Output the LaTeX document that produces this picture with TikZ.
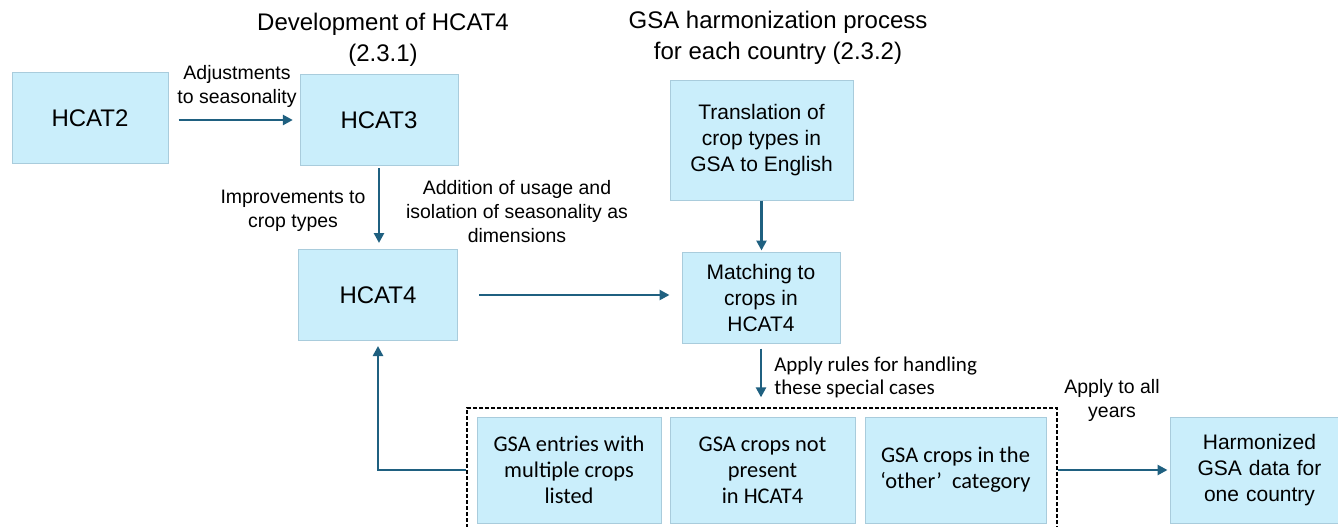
\documentclass[tikz,border=0pt]{standalone}
\usepackage{fontspec}
\setmainfont{Liberation Sans}
\newfontfamily\narrowfont{Carlito}
\usetikzlibrary{arrows.meta}
\definecolor{boxfill}{HTML}{CAEEFB}
\definecolor{boxline}{HTML}{A9CCDC}
\definecolor{arrcol}{HTML}{1F6080}
\tikzset{
  box/.style={draw=boxline, fill=boxfill, line width=0.75pt, inner sep=0pt, align=center, font=\fontsize{15.75}{19.5}\selectfont},
  bigbox/.style={box, font=\fontsize{18}{22}\selectfont},
  nbox/.style={box, font=\narrowfont\fontsize{16.8}{19.5}\selectfont},
  arr/.style={draw=arrcol, line width=1.9pt, -{Triangle[length=7.5pt,width=7.5pt]}},
  lab/.style={align=center, inner sep=0pt, font=\fontsize{14.6}{18}\selectfont},
  ttl/.style={align=center, inner sep=0pt, font=\fontsize{18}{23.25}\selectfont},
}
\begin{document}
\begin{tikzpicture}[x=0.75pt,y=-0.75pt]
\useasboundingbox (0,0) rectangle (1338,526);
\begin{scope}
\clip (0,0) rectangle (1338,526);
% titles
\node[ttl] (t1) at (383,40) {Development of HCAT4\\(2.3.1)};
\node[ttl] (t2) at (778,38) {GSA harmonization process\\for each country (2.3.2)};
% boxes
\node[bigbox, minimum width=156*0.75pt, minimum height=91*0.75pt] (h2) at (90,118) {HCAT2};
\node[bigbox, minimum width=158*0.75pt, minimum height=91*0.75pt] (h3) at (379,120) {HCAT3};
\node[bigbox, minimum width=159*0.75pt, minimum height=91*0.75pt] (h4) at (378,295) {HCAT4};
\node[box, minimum width=183*0.75pt, minimum height=120*0.75pt] (tr) at (761.5,140) {Translation of\\crop types in\\GSA to English};
\node[box, minimum width=158*0.75pt, minimum height=91*0.75pt] (ma) at (761,297.5) {Matching to\\crops in\\HCAT4};
\node[draw, dash pattern=on 3pt off 1.5pt, line width=1pt, minimum width=590*0.75pt, minimum height=132*0.75pt, inner sep=0pt] (grp) at (762,474) {};
\node[nbox, minimum width=184*0.75pt, minimum height=106*0.75pt] (b1) at (569,470) {GSA entries with\\multiple crops\\listed};
\node[nbox, minimum width=185*0.75pt, minimum height=106*0.75pt] (b2) at (762.5,470) {GSA crops not\\present\\in HCAT4};
\node[nbox, minimum width=181*0.75pt, minimum height=106*0.75pt] (b3) at (955.5,470) {GSA crops in the\\‘other’\ \ category};
\node[box, minimum width=179*0.75pt, minimum height=106*0.75pt, text width=179*0.75pt] (hz) at (1259.5,470) {Harmonized\\GSA data for\\one country};
% labels
\node[lab] (l1) at (237,86) {Adjustments\\to seasonality};
\node[lab] (l2) at (293,211) {Improvements to\\crop types};
\node[lab] (l3) at (517,212) {Addition of usage and\\isolation of seasonality as\\dimensions};
\node[lab, anchor=west, align=left, font=\narrowfont\fontsize{15.75}{17.25}\selectfont] (l4) at (774,377) {Apply rules for handling\\these special cases};
\node[lab] (l5) at (1112,400) {Apply to all\\years};
% connectors
\draw[arr, shorten <=7.5pt, shorten >=5pt] (h2.east |- h3.west) -- (h3.west);
\draw[arr, shorten <=1.5pt, shorten >=4.5pt] (h3.south) -- (h3.south |- h4.north);
\draw[arr, shorten <=15.75pt, shorten >=9pt] (h4.east) -- (h4.east -| ma.west);
\draw[arr, shorten >=0.75pt] (tr.south) -- (tr.south |- ma.north);
\draw[arr, shorten <=3.75pt, shorten >=7.5pt] (ma.south) -- (ma.south |- grp.north);
\draw[arr, shorten >=3.75pt] (grp.west |- b1.west) -| (h4.south);
\draw[arr, shorten >=1.5pt] (grp.east |- hz.west) -- (hz.west);
\end{scope}
\end{tikzpicture}
\end{document}
